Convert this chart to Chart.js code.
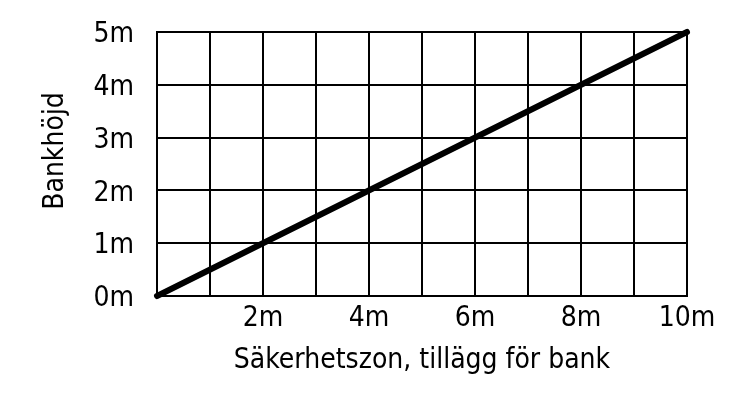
<!DOCTYPE html>
<html>
<head>
<meta charset="utf-8">
<style>
  html, body { margin: 0; padding: 0; background: #fff; }
  #wrap { width: 731px; height: 405px; }
</style>
<script src="https://cdn.jsdelivr.net/npm/chart.js@4/dist/chart.umd.min.js"></script>
</head>
<body>
<div id="wrap"><canvas id="c" width="731" height="405"></canvas></div>
<script>
// Safety zone addition versus bank height
const zoneWidth = [0, 10];       // metres (x)
const bankHeight = [0, 5];       // metres (y)
const xTickLabels = ['', '', '2m', '', '4m', '', '6m', '', '8m', '', '10m'];
const yTickLabels = ['0m', '1m', '2m', '3m', '4m', '5m'];
const xTitle = 'Säkerhetszon, tillägg för bank';
const yTitle = 'Bankhöjd';

const FONT = '"Liberation Sans Narrow", "DejaVu Sans Condensed", sans-serif';

// Vertical axis title, drawn a little above the plot's middle
const yTitlePlugin = {
  id: 'yTitle',
  afterDraw(chart) {
    const ctx = chart.ctx;
    const a = chart.chartArea;
    ctx.save();
    ctx.translate(a.left - 101, (a.top + a.bottom) / 2 - 13);
    ctx.rotate(-Math.PI / 2);
    ctx.textAlign = 'center';
    ctx.textBaseline = 'middle';
    ctx.font = '28px ' + FONT;
    ctx.fillStyle = '#000';
    ctx.fillText(yTitle, 0, 0);
    ctx.restore();
  }
};

new Chart(document.getElementById('c'), {
  type: 'line',
  data: {
    datasets: [{
      data: zoneWidth.map((x, i) => ({ x: x, y: bankHeight[i] })),
      borderColor: '#000',
      borderWidth: 6,
      borderCapStyle: 'round',
      pointRadius: 0,
      tension: 0,
      clip: false
    }]
  },
  options: {
    responsive: false,
    animation: false,
    layout: { padding: { left: 40, right: 44, top: 32, bottom: 27 } },
    plugins: { legend: { display: false }, tooltip: { enabled: false } },
    scales: {
      x: {
        type: 'linear',
        min: 0, max: 10,
        ticks: {
          stepSize: 1,
          autoSkip: false,
          maxRotation: 0,
          color: '#000',
          padding: 6,
          font: { family: FONT, size: 28 },
          callback: (v) => xTickLabels[Math.round(v)]
        },
        grid: { color: '#000', lineWidth: 2, drawTicks: false },
        border: { color: '#000', width: 2 },
        title: {
          display: true,
          text: xTitle,
          color: '#000',
          font: { family: FONT, size: 28 },
          padding: { top: 0, bottom: 0 }
        },
        afterFit: (s) => { s.height = 82; s.paddingLeft = 0; s.paddingRight = 0; }
      },
      y: {
        type: 'linear',
        min: 0, max: 5,
        ticks: {
          stepSize: 1,
          color: '#000',
          padding: 23,
          labelOffset: 3,
          font: { family: FONT, size: 28 },
          callback: (v) => yTickLabels[Math.round(v)]
        },
        grid: { color: '#000', lineWidth: 2, drawTicks: false },
        border: { color: '#000', width: 2 },
        title: { display: false },
        afterFit: (s) => { s.width = 117; s.paddingTop = 0; s.paddingBottom = 0; }
      }
    }
  },
  plugins: [yTitlePlugin]
});
</script>
</body>
</html>
